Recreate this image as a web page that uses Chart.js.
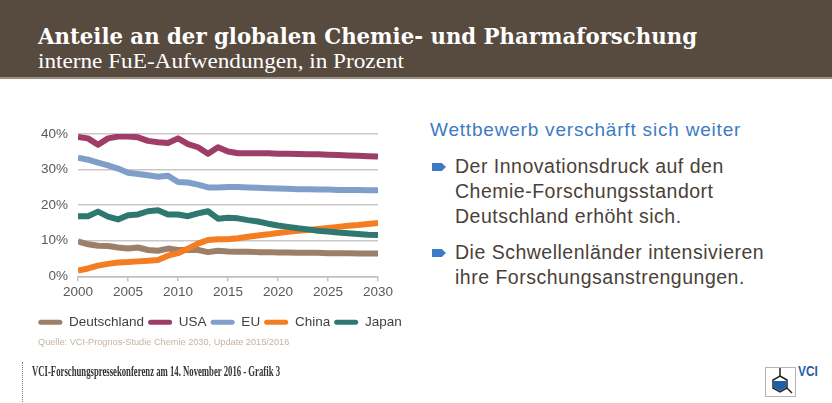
<!DOCTYPE html>
<html>
<head>
<meta charset="utf-8">
<script src="https://cdn.jsdelivr.net/npm/chart.js@4"></script>
<style>
  html, body { margin: 0; padding: 0; background: #fff; }
  body { width: 832px; height: 403px; position: relative; overflow: hidden; font-family: "Liberation Sans", Arial, sans-serif; }
  #head { position: absolute; left: 0; top: 0; width: 832px; height: 77px; background: #574a3e; border-bottom: 2px solid #9a9084; }
  .fit { position: absolute; white-space: nowrap; transform-origin: 0 50%; }
  #title { left: 38px; top: 22px; color: #fff; font-family: "DejaVu Serif", serif; font-weight: bold; font-stretch: condensed; font-size: 23px; line-height: 28px; }
  #sub { left: 38px; top: 49px; color: #fff; font-family: "Liberation Serif", serif; font-size: 21px; line-height: 24px; }
  #wrap { position: absolute; left: 20px; top: 116px; width: 400px; height: 223px; }
  #src { position: absolute; left: 38px; top: 337px; font-size: 9.2px; color: #c3b3a3; white-space: nowrap; }
  #side { position: absolute; left: 430px; top: 118px; width: 400px; }
  #side h2 { margin: 0; font-weight: normal; font-size: 19px; letter-spacing: 0.8px; line-height: 24px; color: #3d7bc4; }
  #side p { position: relative; margin: 0; padding-left: 25px; font-size: 19.5px; letter-spacing: 0.5px; line-height: 25px; color: #4a4139; }
  #side p.first { margin-top: 12px; }
  #side p.second { margin-top: 11px; }
  #side p span.arr { position: absolute; left: 2px; top: 9px; width: 14px; height: 8px; background: #3d7bc4; clip-path: polygon(0 0, 70% 0, 100% 50%, 70% 100%, 0 100%); }
  #dots { position: absolute; left: 22px; top: 362px; height: 40px; border-left: 1px dotted #777; }
  #foot { left: 32px; top: 364px; color: #333; font-family: "Liberation Serif", serif; font-weight: bold; font-size: 14px; line-height: 15px; }
  #logo { position: absolute; left: 762px; top: 360px; }
</style>
</head>
<body>
<div id="head"></div>
<div id="title" class="fit" data-w="659">Anteile an der globalen Chemie- und Pharmaforschung</div>
<div id="sub" class="fit" data-w="366">interne FuE-Aufwendungen, in Prozent</div>

<div id="wrap"><canvas id="myChart"></canvas></div>
<div id="src">Quelle: VCI-Prognos-Studie Chemie 2030, Update 2015/2016</div>

<div id="side">
  <h2>Wettbewerb verschärft sich weiter</h2>
  <p class="first"><span class="arr"></span>Der Innovationsdruck auf den<br>Chemie-Forschungsstandort<br>Deutschland erhöht sich.</p>
  <p class="second"><span class="arr"></span>Die Schwellenländer intensivieren<br>ihre Forschungsanstrengungen.</p>
</div>

<div id="dots"></div>
<div id="foot" class="fit" data-w="248">VCI-Forschungspressekonferenz am 14. November 2016 - Grafik 3</div>
<svg id="logo" width="60" height="38" viewBox="0 0 60 38">
  <rect x="3.5" y="7.5" width="30" height="29" fill="#fff" stroke="#b5b5b5" stroke-width="1"/>
  <line x1="18" y1="8" x2="18" y2="16" stroke="#222" stroke-width="1.5"/>
  <polygon points="18,16 25,20 25,28 18,32 11,28 11,20" fill="#fff" stroke="#222" stroke-width="1.5"/>
  <polygon points="11.8,21 24.2,21 24.2,27.5 18,31 11.8,27.5" fill="#1f5fa8"/>
  <line x1="25" y1="28" x2="30" y2="33" stroke="#222" stroke-width="1.5"/>
  <text x="36" y="16" font-family="Liberation Sans, Arial" font-weight="bold" font-size="14" fill="#1f5fa8" transform="scale(0.85,1)" style="transform-origin:36px 0">VCI</text>
</svg>

<script>
// Jahre und Anteile (in %)
var years = [2000, 2001, 2002, 2003, 2004, 2005, 2006, 2007, 2008, 2009, 2010,
             2011, 2012, 2013, 2014, 2015, 2016, 2017, 2018, 2019, 2020,
             2021, 2022, 2023, 2024, 2025, 2026, 2027, 2028, 2029, 2030];

var deutschland = [9.8, 9.0, 8.6, 8.5, 8.1, 7.8, 8.1, 7.4, 7.2, 7.8, 7.4, 7.4, 7.4, 6.8, 7.2, 7.0,
                   6.9, 6.9, 6.8, 6.8, 6.7, 6.7, 6.6, 6.6, 6.6, 6.5, 6.5, 6.5, 6.4, 6.4, 6.4];
var usa = [39.2, 38.8, 37.0, 38.8, 39.3, 39.3, 39.1, 38.1, 37.7, 37.5, 38.8, 37.2, 36.3, 34.5, 36.3, 35.1,
           34.6, 34.6, 34.6, 34.6, 34.5, 34.5, 34.4, 34.3, 34.3, 34.2, 34.1, 34.0, 33.9, 33.8, 33.7];
var eu = [33.4, 32.8, 32.0, 31.2, 30.3, 29.1, 28.8, 28.4, 28.0, 28.3, 26.5, 26.4, 25.8, 25.0, 25.0, 25.1,
          25.1, 25.0, 24.9, 24.8, 24.7, 24.6, 24.5, 24.5, 24.4, 24.4, 24.3, 24.3, 24.3, 24.2, 24.2];
var china = [1.6, 2.2, 3.0, 3.5, 3.9, 4.0, 4.2, 4.4, 4.6, 5.8, 6.5, 7.8, 9.2, 10.2, 10.4, 10.4,
             10.7, 11.1, 11.5, 11.8, 12.2, 12.5, 12.8, 13.0, 13.3, 13.6, 13.9, 14.2, 14.4, 14.7, 15.0];
var japan = [16.9, 16.9, 18.2, 16.8, 16.0, 17.2, 17.4, 18.3, 18.6, 17.4, 17.4, 16.9, 17.7, 18.3, 16.2, 16.5,
             16.3, 15.8, 15.4, 14.8, 14.3, 13.9, 13.5, 13.2, 12.8, 12.6, 12.3, 12.1, 11.9, 11.7, 11.6];

var seriesNames = ["Deutschland", "USA", "EU", "China", "Japan"];
var seriesColors = ["#9c7f69", "#9e3d67", "#7f9fca", "#f47d22", "#2f7872"];
var yTicks = [0, 10, 20, 30, 40];
var xTicks = [2000, 2005, 2010, 2015, 2020, 2025, 2030];

// header / footer text squeezed to the original widths
document.querySelectorAll('.fit').forEach(function(el){
  var w = el.getBoundingClientRect().width;
  el.style.transform = 'scaleX(' + (parseFloat(el.dataset.w) / w) + ')';
});

function pts(vals) {
  return vals.map(function(v, i){ return {x: years[i], y: v}; });
}

var allValues = [deutschland, usa, eu, china, japan];
var datasets = [];
for (var i = 0; i < seriesNames.length; i++) {
  datasets.push({
    label: seriesNames[i],
    data: pts(allValues[i]),
    borderColor: seriesColors[i],
    backgroundColor: seriesColors[i],
    borderWidth: 6,
    pointRadius: 0,
    tension: 0,
    borderJoinStyle: 'round',
    borderCapStyle: 'butt',
    order: seriesNames.length - i   // later series drawn on top, like the original
  });
}

var ctx = document.getElementById('myChart').getContext('2d');
var chart = new Chart(ctx, {
    type: 'line',
    data: { datasets: datasets },
    options: {
        responsive: true,
        maintainAspectRatio: false,
        animation: false,
        layout: { padding: { top: 6, right: 0, left: 0, bottom: 0 } },
        plugins: {
            tooltip: { enabled: false },
            legend: {
                position: 'bottom',
                // empty title only used as a spacer above the legend row
                title: { display: true, text: ' ', font: { size: 1, lineHeight: 1 }, padding: { top: 0, bottom: 7 } },
                labels: {
                    boxWidth: 24,
                    boxHeight: 5,
                    useBorderRadius: true,
                    borderRadius: 2.5,
                    padding: 4,
                    color: '#404040',
                    font: { family: 'Liberation Sans', size: 13.5 },
                    sort: function(a, b){ return a.datasetIndex - b.datasetIndex; },
                    generateLabels: function(c) {
                      var items = Chart.defaults.plugins.legend.labels.generateLabels(c);
                      items.forEach(function(it){ it.lineWidth = 0; });
                      return items;
                    }
                }
            }
        },
        scales: {
            x: {
                type: 'linear',
                min: 2000,
                max: 2030,
                afterBuildTicks: function(s){ s.ticks = xTicks.map(function(v){ return {value: v}; }); },
                afterFit: function(s){ s.paddingRight = 42; },
                ticks: {
                    color: '#595959',
                    padding: 3,
                    maxRotation: 0,
                    font: { family: 'Liberation Sans', size: 13.5 },
                    callback: function(v){ return String(v); }
                },
                grid: { drawOnChartArea: false, drawTicks: true, tickLength: 5, color: '#bfbfbf', lineWidth: 1.5 },
                border: { color: '#bfbfbf', width: 1.5 }
            },
            y: {
                min: 0,
                max: 40,
                afterBuildTicks: function(s){ s.ticks = yTicks.map(function(v){ return {value: v}; }); },
                afterFit: function(s){ s.width = 58; },
                ticks: {
                    color: '#595959',
                    padding: 10,
                    font: { family: 'Liberation Sans', size: 13.5 },
                    callback: function(v){ return v + '%'; }
                },
                grid: { drawTicks: false, color: '#c8c8c8', lineWidth: 1.5 },
                border: { display: false }
            }
        }
    }
});
</script>
</body>
</html>
